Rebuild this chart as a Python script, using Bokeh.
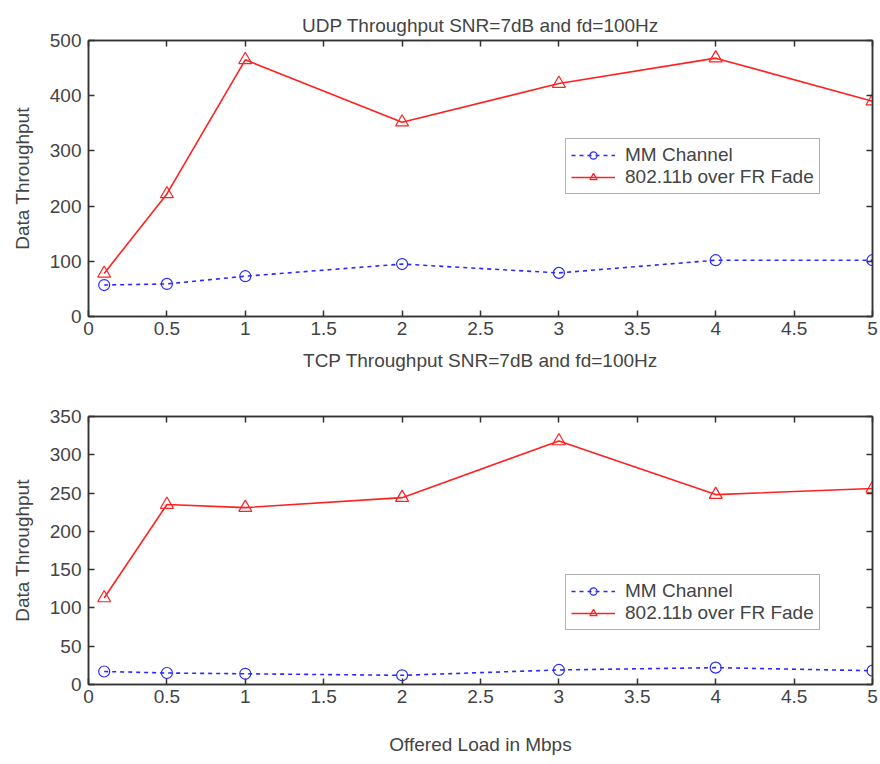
from bokeh.plotting import figure
from bokeh.layouts import column
from bokeh.models import FixedTicker, LinearAxis, Legend, LegendItem, Range1d
from bokeh.embed import file_html
from bokeh.resources import INLINE

# Offered load (Mbps)
load = [0.1, 0.5, 1, 2, 3, 4, 5]

# UDP throughput
udp_mm = [57, 59, 73, 95, 79, 102, 102]
udp_fr = [78, 222, 465, 352, 422, 468, 390]

# TCP throughput
tcp_mm = [17, 15, 14, 12, 19, 22, 18]
tcp_fr = [113, 235, 231, 244, 318, 248, 256]

x_ticks = [0, 0.5, 1, 1.5, 2, 2.5, 3, 3.5, 4, 4.5, 5]
x_tick_labels = ["0", "0.5", "1", "1.5", "2", "2.5", "3", "3.5", "4", "4.5", "5"]
udp_y_ticks = [0, 100, 200, 300, 400, 500]
tcp_y_ticks = [0, 50, 100, 150, 200, 250, 300, 350]

udp_title = "UDP Throughput SNR=7dB and fd=100Hz"
tcp_title = "TCP Throughput SNR=7dB and fd=100Hz"

FONT = "Liberation Sans"
TEXT = "#444444"
AXIS = "#333333"
BLUE = "#2a2aff"
RED = "#ff2020"


def style_axis(ax, ticks, labels=True, overrides=None):
    ax.ticker = FixedTicker(ticks=ticks)
    ax.major_tick_in = 6
    ax.major_tick_out = 0
    ax.minor_tick_line_color = None
    ax.axis_line_color = AXIS
    ax.axis_line_width = 1.5
    ax.major_tick_line_color = AXIS
    ax.major_tick_line_width = 1.5
    ax.major_label_text_font = FONT
    ax.major_label_text_font_size = "19px"
    ax.major_label_text_color = TEXT
    ax.axis_label_text_font = FONT
    ax.axis_label_text_font_size = "19px"
    ax.axis_label_text_font_style = "normal"
    ax.axis_label_text_color = TEXT
    if overrides:
        ax.major_label_overrides = overrides
    if not labels:
        # tick marks only, no label text on the mirrored axes
        ax.major_label_text_color = None
        ax.major_label_text_font_size = "1px"
        ax.major_label_standoff = 0


def make_panel(mm, fr, y_max, y_ticks, height, top, bottom, legend_y,
               title=None, top_caption=None, caption_gap=0, x_label=None):
    p = figure(width=880, height=height, output_backend="svg", toolbar_location=None,
               x_range=Range1d(0, 5), y_range=Range1d(0, y_max),
               min_border_left=88, min_border_right=8,
               min_border_top=top, min_border_bottom=bottom)
    p.background_fill_color = "white"
    p.border_fill_color = "white"
    p.outline_line_color = AXIS
    p.outline_line_width = 1.5
    p.grid.visible = False

    if title:
        p.title.text = title
        p.title.text_font = FONT
        p.title.text_font_size = "19px"
        p.title.text_font_style = "normal"
        p.title.text_color = TEXT
        p.title.align = "center"

    overrides = {t: s for t, s in zip(x_ticks, x_tick_labels)}
    style_axis(p.xaxis[0], x_ticks, overrides=overrides)
    p.xaxis[0].major_label_standoff = 5
    style_axis(p.yaxis[0], y_ticks)
    p.yaxis[0].major_label_standoff = 7
    p.yaxis[0].axis_label = "Data Throughput"
    p.yaxis[0].axis_label_standoff = 14
    if x_label:
        p.xaxis[0].axis_label = x_label
        p.xaxis[0].axis_label_standoff = 28

    right = LinearAxis()
    style_axis(right, y_ticks, labels=False)
    p.add_layout(right, "right")
    above = LinearAxis()
    style_axis(above, x_ticks, labels=False)
    if top_caption:
        # heading carried by the top axis, set well clear of the frame
        above.axis_label = top_caption
        above.axis_label_standoff = caption_gap
    p.add_layout(above, "above")

    mm_line = p.line(load, mm, line_color=BLUE, line_width=1.6, line_dash="4 4")
    mm_mark = p.scatter(load, mm, marker="circle", size=11, fill_color=None,
                        line_color=BLUE, line_width=1.2)
    fr_line = p.line(load, fr, line_color=RED, line_width=1.6)
    fr_mark = p.scatter(load, fr, marker="triangle", size=13, fill_color=None,
                        line_color=RED, line_width=1.2)

    legend = Legend(items=[
        LegendItem(label="MM Channel", renderers=[mm_line, mm_mark]),
        LegendItem(label="802.11b over FR Fade", renderers=[fr_line, fr_mark]),
    ], location=(477, legend_y))
    legend.label_text_font = FONT
    legend.label_text_font_size = "19px"
    legend.label_text_color = TEXT
    legend.border_line_color = "#666666"
    legend.border_line_width = 1.5
    legend.background_fill_color = "white"
    legend.background_fill_alpha = 1
    legend.glyph_width = 44
    legend.glyph_height = 18
    legend.label_standoff = 10
    legend.label_height = 18
    legend.spacing = 0
    legend.padding = 5
    legend.margin = 0
    p.add_layout(legend, "center")
    return p


top_fig = make_panel(udp_mm, udp_fr, 500, udp_y_ticks, 344, 40, 28, 122,
                     title=udp_title)
bottom_fig = make_panel(tcp_mm, tcp_fr, 350, tcp_y_ticks, 420, 72, 80, 54,
                        top_caption=tcp_title, caption_gap=46,
                        x_label="Offered Load in Mbps")

layout = column(top_fig, bottom_fig, spacing=0)
open("out.html", "w").write(file_html(layout, INLINE))
